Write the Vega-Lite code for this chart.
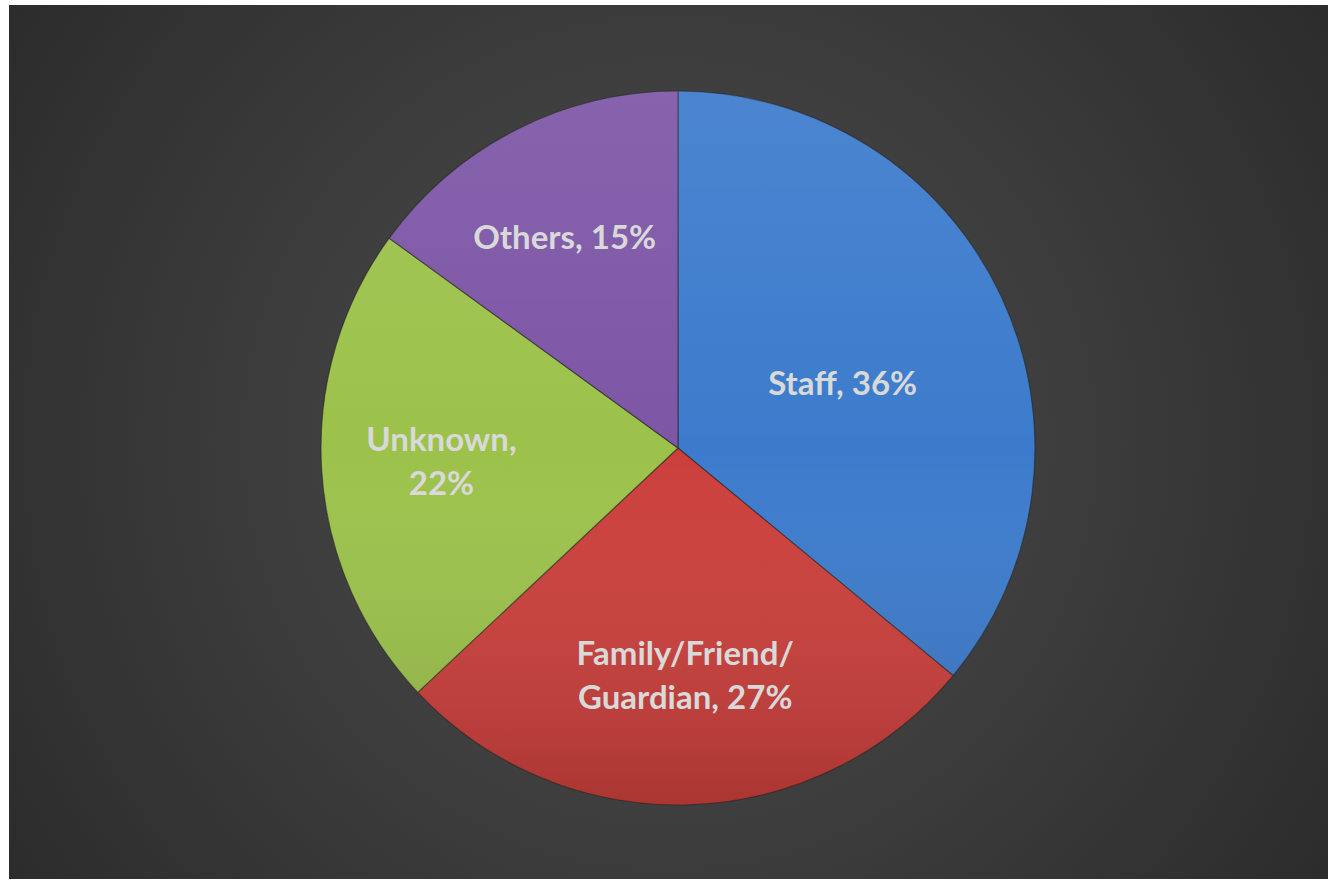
{
  "$schema": "https://vega.github.io/schema/vega-lite/v6.json",
  "width": 1334,
  "height": 885,
  "autosize": {"type": "fit", "contains": "padding"},
  "padding": {"left": 9, "top": 5, "right": 6, "bottom": 6},
  "background": "#ffffff",
  "config": {"view": {"stroke": null}},
  "data": {
    "values": [
      {"category": "Staff", "value": 36, "order": 1, "label": "Staff, 36%"},
      {"category": "Family/Friend/Guardian", "value": 27, "order": 2, "label": "Family/Friend/\nGuardian, 27%"},
      {"category": "Unknown", "value": 22, "order": 3, "label": "Unknown,\n22%"},
      {"category": "Others", "value": 15, "order": 4, "label": "Others, 15%"}
    ]
  },
  "layer": [
    {
      "transform": [{"aggregate": [{"op": "count", "as": "n"}]}],
      "mark": {
        "type": "rect",
        "fill": {
          "gradient": "radial",
          "x1": 0.5, "y1": 0.5, "r1": 0,
          "x2": 0.5, "y2": 0.5, "r2": 0.72,
          "stops": [
            {"offset": 0, "color": "#4e4e4e"},
            {"offset": 1, "color": "#252525"}
          ]
        }
      },
      "encoding": {}
    },
    {
      "mark": {
        "type": "arc",
        "outerRadius": 357,
        "xOffset": 9.5,
        "yOffset": 6,
        "stroke": "#222222",
        "strokeWidth": 1.2,
        "strokeOpacity": 0.55
      },
      "encoding": {
        "theta": {"field": "value", "type": "quantitative", "stack": true},
        "order": {"field": "order", "type": "quantitative"},
        "color": {
          "field": "category",
          "type": "nominal",
          "scale": {
            "domain": ["Staff", "Family/Friend/Guardian", "Unknown", "Others"],
            "range": ["#3c7bcc", "#cb3f3b", "#9cc24b", "#7d56a6"]
          },
          "legend": null
        }
      }
    },
    {
      "transform": [{"aggregate": [{"op": "sum", "field": "value", "as": "total"}]}],
      "mark": {
        "type": "arc",
        "outerRadius": 357,
        "xOffset": 9.5,
        "yOffset": 6,
        "fill": {
          "gradient": "linear",
          "x1": 0, "y1": 0, "x2": 0, "y2": 1,
          "stops": [
            {"offset": 0, "color": "rgba(255,255,255,0.08)"},
            {"offset": 0.5, "color": "rgba(255,255,255,0)"},
            {"offset": 1, "color": "rgba(0,0,0,0.16)"}
          ]
        }
      },
      "encoding": {
        "theta": {"field": "total", "type": "quantitative", "stack": true}
      }
    },
    {
      "mark": {
        "type": "text",
        "xOffset": 9.5,
        "yOffset": 6,
        "radius": {"expr": "datum.category === 'Staff' ? 182 : datum.category === 'Unknown' ? 237 : datum.category === 'Others' ? 232 : 229"},
        "dy": {"expr": "datum.category === 'Staff' ? 14 : (datum.category === 'Unknown' || datum.category === 'Family/Friend/Guardian') ? -22 : -2"},
        "dx": {"expr": "datum.category === 'Others' ? -8 : 0"},
        "font": "Lato",
        "fontWeight": "bold",
        "fontSize": 33,
        "lineBreak": "\n",
        "lineHeight": 44,
        "align": "center",
        "baseline": "middle",
        "fill": "#d9d9d9"
      },
      "encoding": {
        "theta": {"field": "value", "type": "quantitative", "stack": true},
        "order": {"field": "order", "type": "quantitative"},
        "text": {"field": "label", "type": "nominal"}
      }
    }
  ]
}
